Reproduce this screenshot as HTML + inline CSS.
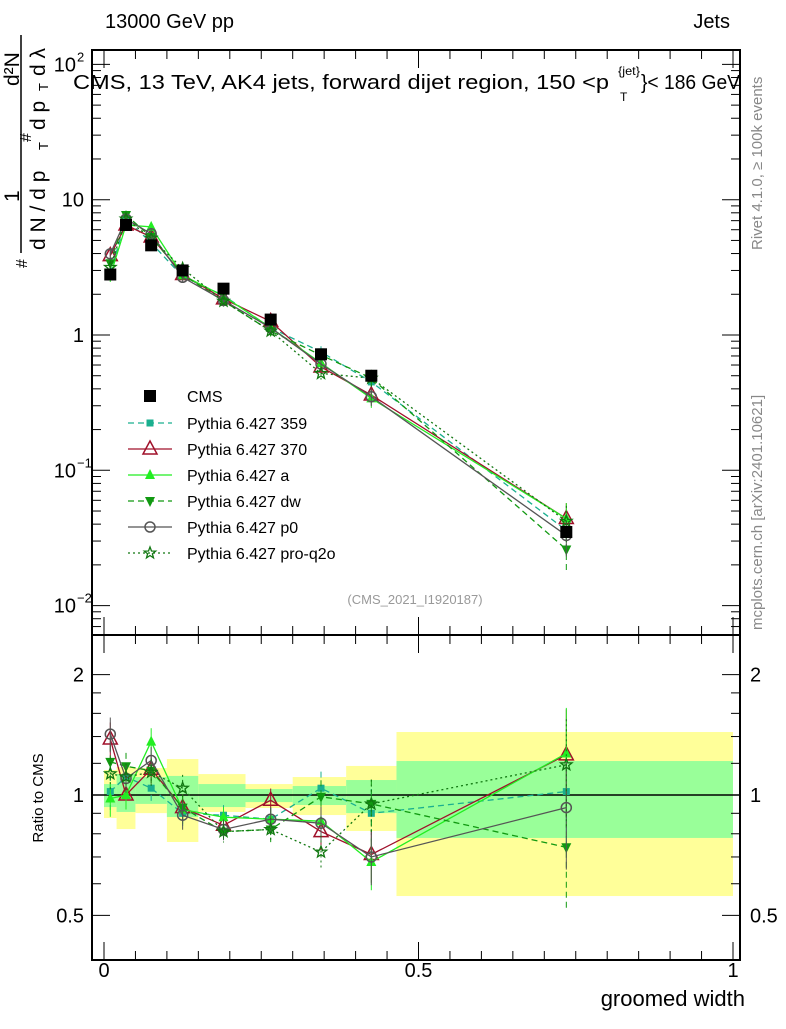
<!DOCTYPE html>
<html><head><meta charset="utf-8"><style>
body{margin:0;background:#fff;width:786px;height:1024px;overflow:hidden}
svg{font-family:"Liberation Sans",sans-serif}
</style></head><body>
<svg id="c" width="786" height="1024" xmlns="http://www.w3.org/2000/svg"></svg>
<script>
const xCenters=[0.01,0.035,0.075,0.125,0.19,0.265,0.345,0.425,0.735];
const binEdges=[0,0.02,0.05,0.1,0.15,0.225,0.3,0.385,0.465,1.0];
const cmsVals=[2.8,6.5,4.6,3.0,2.2,1.3,0.72,0.5,0.035];
const yelLo=[0.876,0.822,0.901,0.763,0.907,0.928,0.891,0.813,0.559];
const yelHi=[1.155,1.175,1.168,1.230,1.128,1.065,1.109,1.182,1.437];
const grnLo=[0.933,0.907,0.950,0.881,0.933,0.960,0.944,0.901,0.781];
const grnHi=[1.065,1.128,1.109,1.116,1.065,1.035,1.053,1.09,1.216];
const v359=[2.86,7.2,4.8,2.7,1.96,1.13,0.75,0.45,0.036];
const v370=[3.86,6.5,5.3,2.8,1.85,1.26,0.58,0.36,0.044];
const vA=[2.74,6.5,6.3,2.76,1.94,1.13,0.62,0.34,0.044];
const vDw=[3.39,7.7,5.3,2.8,1.78,1.07,0.71,0.48,0.026];
const vP0=[3.98,7.2,5.6,2.67,1.8,1.13,0.61,0.35,0.033];
const vQ2o=[3.16,7.2,5.2,3.1,1.78,1.07,0.52,0.48,0.042];
const r359=[1.02,1.11,1.04,0.90,0.89,0.87,1.04,0.90,1.02];
const r370=[1.38,1.0,1.16,0.93,0.84,0.97,0.81,0.71,1.26];
const rA=[0.98,1.0,1.36,0.92,0.88,0.87,0.86,0.68,1.27];
const rDw=[1.21,1.18,1.15,0.93,0.81,0.82,0.99,0.95,0.74];
const rP0=[1.42,1.10,1.22,0.89,0.82,0.87,0.85,0.70,0.93];
const rQ2o=[1.13,1.11,1.14,1.04,0.81,0.82,0.72,0.95,1.19];
const relErr=[0.1,0.08,0.08,0.08,0.06,0.07,0.1,0.15,0.3];

const NS="http://www.w3.org/2000/svg";
const svg=document.getElementById('c');
function el(t,a,p){const e=document.createElementNS(NS,t);for(const k in a)e.setAttribute(k,a[k]);(p||svg).appendChild(e);return e;}
const X=v=>104+629*v;
const YM=v=>335-135.3*Math.log10(v);
const YR=r=>795-400*Math.log10(r);
const L=92,R=740,T=50,MB=635,RB=960;

for(let i=0;i<xCenters.length;i++){
  let e=el('rect',{x:X(binEdges[i]),y:YR(yelHi[i]),width:X(binEdges[i+1])-X(binEdges[i]),height:YR(yelLo[i])-YR(yelHi[i]),fill:'#ffff99'});
  
  e=el('rect',{x:X(binEdges[i]),y:YR(grnHi[i]),width:X(binEdges[i+1])-X(binEdges[i]),height:YR(grnLo[i])-YR(grnHi[i]),fill:'#99ff99'});
  
}
el('line',{x1:L,x2:R,y1:YR(1),y2:YR(1),stroke:'#000','stroke-width':1.5});

let f=el('rect',{x:L,y:T,width:R-L,height:MB-T,fill:'none',stroke:'#000','stroke-width':2});

f=el('rect',{x:L,y:MB,width:R-L,height:RB-MB,fill:'none',stroke:'#000','stroke-width':2});


for(let k=0;k<=20;k++){const v=k*0.05;if(X(v)>R)break;const big=k%10==0,len=big?18:9;
 for(const [y0,d] of [[T,1],[MB,-1],[MB,1],[RB,-1]]) el('line',{x1:X(v),x2:X(v),y1:y0,y2:y0+d*len,stroke:'#000','stroke-width':1});}
const xt=['0','0.5','1'];[0,0.5,1].forEach((v,i)=>{const t=el('text',{x:X(v),y:977,'font-size':20,'text-anchor':'middle'});t.textContent=xt[i];});
let t=el('text',{x:745,y:1006,'font-size':22,'text-anchor':'end'});t.textContent='groomed width';


for(let d=-3;d<=2;d++)for(let m=1;m<10;m++){const v=m*Math.pow(10,d);const y=YM(v);if(y<T||y>MB)continue;const len=m==1?18:9;
 el('line',{x1:L,x2:L+len,y1:y,y2:y,stroke:'#000'});el('line',{x1:R,x2:R-len,y1:y,y2:y,stroke:'#000'});}
const ylab=[[100,'10','2'],[10,'10',''],[1,'1',''],[0.1,'10','−1'],[0.01,'10','−2']];
ylab.forEach(a=>{const y=YM(a[0]);const t=el('text',{x:a[2]?76:84,y:y+7,'font-size':20,'text-anchor':'end'});t.textContent=a[1];
 
 if(a[2]){const s=el('text',{x:77,y:y-3,'font-size':13});s.textContent=a[2];}});
[0.5,0.6,0.7,0.8,0.9,1,1.2,1.4,1.6,1.8,2].forEach(r=>{const y=YR(r);const big=(r==0.5||r==1||r==2);const len=big?18:9;
 el('line',{x1:L,x2:L+len,y1:y,y2:y,stroke:'#000'});el('line',{x1:R,x2:R-len,y1:y,y2:y,stroke:'#000'});});
[[2,'2'],[1,'1'],[0.5,'0.5']].forEach(a=>{for(const [x,an] of [[84,'end'],[750,'start']]){const t=el('text',{x:x,y:YR(a[0])+7,'font-size':20,'text-anchor':an});t.textContent=a[1];}});
t=el('text',{x:0,y:0,'font-size':15,transform:'translate(43,798) rotate(-90)','text-anchor':'middle'});t.textContent='Ratio to CMS';


t=el('text',{x:105,y:28,'font-size':20});t.textContent='13000 GeV pp';
t=el('text',{x:730,y:28,'font-size':20,'text-anchor':'end'});t.textContent='Jets';
t=el('text',{x:73,y:89,'font-size':20,textLength:536,lengthAdjust:'spacingAndGlyphs'});t.textContent='CMS, 13 TeV, AK4 jets, forward dijet region, 150 <p';
t=el('text',{x:618,y:75,'font-size':12,textLength:22,lengthAdjust:'spacingAndGlyphs'});t.textContent='{jet}';
t=el('text',{x:620,y:101,'font-size':12});t.textContent='T';
t=el('text',{x:641,y:89,'font-size':20,textLength:99,lengthAdjust:'spacingAndGlyphs'});t.textContent='}< 186 GeV';
t=el('text',{x:415,y:604,'font-size':13,fill:'#999','text-anchor':'middle'});t.textContent='(CMS_2021_I1920187)';
t=el('text',{x:0,y:0,'font-size':15,fill:'#888',transform:'translate(762,250) rotate(-90)'});t.textContent='Rivet 4.1.0, ≥ 100k events';
t=el('text',{x:0,y:0,'font-size':15,fill:'#888',transform:'translate(762,630) rotate(-90)'});t.textContent='mcplots.cern.ch [arXiv:2401.10621]';

// y axis title
const g=el('g',{});
el('line',{x1:21,x2:21,y1:35,y2:253,stroke:'#000','stroke-width':1.5},g);
function rt(x,y,s,txt){const e=el('text',{x:0,y:0,'font-size':s,transform:`translate(${x},${y}) rotate(-90)`},g);e.textContent=txt;return e;}
rt(19,86,21,'d²N');
rt(19,202,21,'1');
rt(27,268,16,'#');
rt(45,130,21,'d p');
rt(48,91,13,'T');
rt(45,76,21,'d λ');
rt(31,142,16,'#');
rt(45,250,21,'d N / d p');
rt(48,150,13,'T');

const series=[
 {n:'pythia-359',lab:'Pythia 6.427 359',v:v359,r:r359,c:'#1aaf8f',dash:'6,4',m:'sq'},
 {n:'pythia-370',lab:'Pythia 6.427 370',v:v370,r:r370,c:'#a0102a',dash:'',m:'tri-open'},
 {n:'pythia-a',lab:'Pythia 6.427 a',v:vA,r:rA,c:'#22ee22',dash:'',m:'tri'},
 {n:'pythia-dw',lab:'Pythia 6.427 dw',v:vDw,r:rDw,c:'#119911',dash:'6,4',m:'tridown'},
 {n:'pythia-p0',lab:'Pythia 6.427 p0',v:vP0,r:rP0,c:'#555555',dash:'',m:'circ'},
 {n:'pythia-pro-q2o',lab:'Pythia 6.427 pro-q2o',v:vQ2o,r:rQ2o,c:'#117711',dash:'2,3',m:'star'}];
function marker(m,x,y,c,p){
 if(m=='sq')return el('rect',{x:x-3.5,y:y-3.5,width:7,height:7,fill:c},p);
 if(m=='tri-open')return el('polygon',{points:`${x},${y-8} ${x-7},${y+5} ${x+7},${y+5}`,fill:'none',stroke:c,'stroke-width':1.5},p);
 if(m=='tri')return el('polygon',{points:`${x},${y-6} ${x-5},${y+4} ${x+5},${y+4}`,fill:c},p);
 if(m=='tridown')return el('polygon',{points:`${x},${y+6} ${x-5},${y-4} ${x+5},${y-4}`,fill:c},p);
 if(m=='circ')return el('circle',{cx:x,cy:y,r:5,fill:'none',stroke:c,'stroke-width':1.5},p);
 let pts=[];for(let k=0;k<10;k++){const a=-Math.PI/2+k*Math.PI/5,rr=k%2?2.5:6;pts.push((x+rr*Math.cos(a)).toFixed(1)+','+(y+rr*Math.sin(a)).toFixed(1));}
 return el('polygon',{points:pts.join(' '),fill:'none',stroke:c,'stroke-width':1.3},p);
}
series.forEach((S,si)=>{
 const g=el('g',{});
 el('polyline',{points:xCenters.map((x,i)=>X(x)+','+YM(S.v[i])).join(' '),fill:'none',stroke:S.c,'stroke-width':1.3,'stroke-dasharray':S.dash},g);
 el('polyline',{points:xCenters.map((x,i)=>X(x)+','+YR(S.r[i])).join(' '),fill:'none',stroke:S.c,'stroke-width':1.3,'stroke-dasharray':S.dash},g);
 xCenters.forEach((x,i)=>{
  const e=relErr[i];
  el('line',{x1:X(x),x2:X(x),y1:YM(S.v[i]*(1+e)),y2:YM(S.v[i]*(1-e)),stroke:S.c,'stroke-dasharray':S.dash},g);
  el('line',{x1:X(x),x2:X(x),y1:YR(S.r[i]*(1+e)),y2:YR(S.r[i]*(1-e)),stroke:S.c,'stroke-dasharray':S.dash},g);
  const mm=marker(S.m,X(x),YM(S.v[i]),S.c,g);
  const mr=marker(S.m,X(x),YR(S.r[i]),S.c,g);
 });
 const ly=423+si*26;
 const lg=el('g',{});
 el('line',{x1:128,x2:172,y1:ly,y2:ly,stroke:S.c,'stroke-width':1.3,'stroke-dasharray':S.dash},lg);
 marker(S.m,150,ly,S.c,lg);
 const tt=el('text',{x:187,y:ly+6,'font-size':16},lg);tt.textContent=S.lab;
});
xCenters.forEach((x,i)=>{const r=el('rect',{x:X(x)-6,y:YM(cmsVals[i])-6,width:12,height:12,fill:'#000'});
 });
let lr=el('rect',{x:144,y:390,width:12,height:12,fill:'#000'});
t=el('text',{x:187,y:402,'font-size':16});t.textContent='CMS';
</script>
</body></html>
